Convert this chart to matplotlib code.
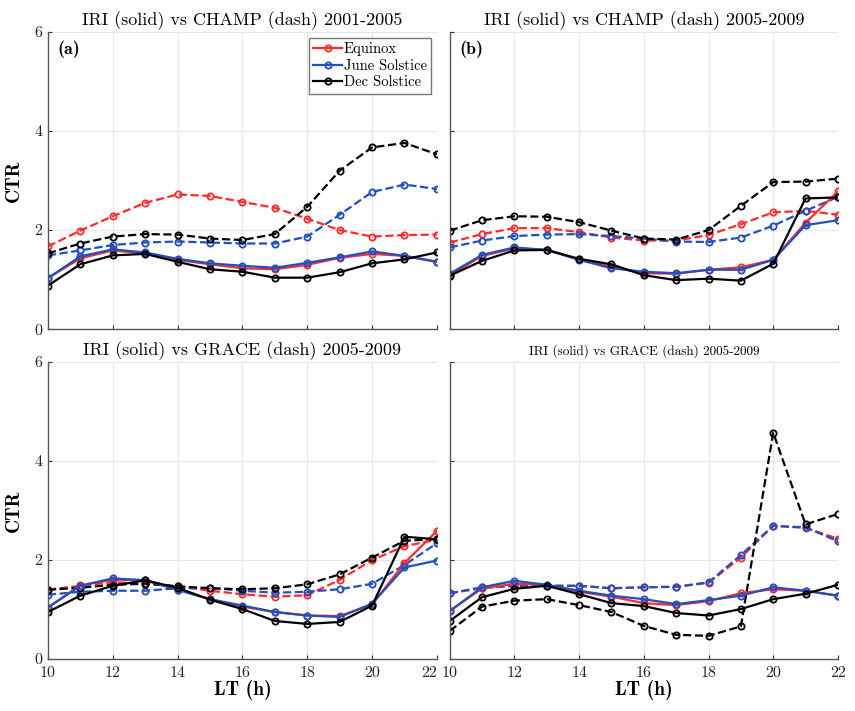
import matplotlib.pyplot as plt
import numpy as np

# 지방시 (LT)
lt = np.arange(10, 23)

# (a) IRI vs CHAMP 2001-2005
a_eq_iri = [1.03, 1.43, 1.59, 1.53, 1.40, 1.31, 1.23, 1.21, 1.30, 1.44, 1.52, 1.48, 1.36]
a_jun_iri = [1.03, 1.47, 1.61, 1.55, 1.42, 1.33, 1.28, 1.24, 1.34, 1.45, 1.57, 1.48, 1.36]
a_dec_iri = [0.88, 1.31, 1.49, 1.52, 1.36, 1.21, 1.16, 1.04, 1.04, 1.15, 1.33, 1.41, 1.55]
a_eq_sat = [1.67, 1.99, 2.28, 2.55, 2.72, 2.69, 2.57, 2.45, 2.23, 2.00, 1.87, 1.90, 1.91]
a_jun_sat = [1.49, 1.59, 1.70, 1.75, 1.77, 1.75, 1.73, 1.73, 1.87, 2.31, 2.77, 2.92, 2.83]
a_dec_sat = [1.53, 1.73, 1.87, 1.92, 1.91, 1.83, 1.80, 1.92, 2.47, 3.20, 3.67, 3.76, 3.53]

# (b) IRI vs CHAMP 2005-2009
b_eq_iri = [1.09, 1.48, 1.63, 1.60, 1.41, 1.26, 1.13, 1.12, 1.20, 1.25, 1.40, 2.15, 2.78]
b_jun_iri = [1.12, 1.50, 1.65, 1.60, 1.40, 1.23, 1.16, 1.13, 1.20, 1.20, 1.40, 2.10, 2.20]
b_dec_iri = [1.08, 1.38, 1.59, 1.60, 1.42, 1.31, 1.09, 0.99, 1.02, 0.98, 1.32, 2.64, 2.66]
b_eq_sat = [1.75, 1.92, 2.04, 2.04, 1.96, 1.85, 1.79, 1.79, 1.90, 2.12, 2.36, 2.39, 2.31]
b_jun_sat = [1.65, 1.79, 1.88, 1.91, 1.92, 1.88, 1.83, 1.77, 1.76, 1.85, 2.09, 2.39, 2.67]
b_dec_sat = [1.99, 2.20, 2.28, 2.27, 2.16, 1.99, 1.83, 1.81, 2.00, 2.49, 2.97, 2.98, 3.04]

# (c) IRI vs GRACE 2005-2009
c_eq_iri = [1.04, 1.49, 1.60, 1.60, 1.40, 1.21, 1.06, 0.95, 0.88, 0.87, 1.10, 1.94, 2.59]
c_jun_iri = [1.04, 1.48, 1.63, 1.59, 1.40, 1.21, 1.08, 0.95, 0.88, 0.85, 1.12, 1.85, 1.99]
c_dec_iri = [0.95, 1.28, 1.48, 1.59, 1.44, 1.20, 1.01, 0.77, 0.71, 0.75, 1.08, 2.47, 2.42]
c_eq_sat = [1.40, 1.48, 1.55, 1.53, 1.47, 1.38, 1.31, 1.26, 1.29, 1.60, 2.00, 2.28, 2.41]
c_jun_sat = [1.30, 1.36, 1.38, 1.38, 1.43, 1.44, 1.38, 1.34, 1.36, 1.41, 1.52, 1.90, 2.34]
c_dec_sat = [1.40, 1.44, 1.50, 1.52, 1.47, 1.43, 1.41, 1.43, 1.51, 1.71, 2.05, 2.39, 2.42]

# (d) IRI vs GRACE 2005-2009
d_eq_iri = [0.97, 1.43, 1.52, 1.50, 1.36, 1.26, 1.13, 1.09, 1.17, 1.33, 1.41, 1.38, 1.28]
d_jun_iri = [0.97, 1.45, 1.58, 1.50, 1.38, 1.28, 1.21, 1.11, 1.19, 1.28, 1.45, 1.38, 1.28]
d_dec_iri = [0.77, 1.25, 1.42, 1.48, 1.31, 1.13, 1.07, 0.93, 0.88, 1.01, 1.21, 1.32, 1.50]
d_eq_sat = [1.33, 1.43, 1.48, 1.48, 1.48, 1.43, 1.45, 1.46, 1.54, 2.05, 2.69, 2.65, 2.43]
d_jun_sat = [1.33, 1.45, 1.48, 1.48, 1.48, 1.43, 1.45, 1.46, 1.55, 2.10, 2.69, 2.66, 2.38]
d_dec_sat = [0.57, 1.06, 1.18, 1.21, 1.09, 0.95, 0.67, 0.49, 0.47, 0.66, 4.57, 2.72, 2.93]

titles = ['IRI (solid) vs CHAMP (dash) 2001-2005',
          'IRI (solid) vs CHAMP (dash) 2005-2009',
          'IRI (solid) vs GRACE (dash) 2005-2009',
          'IRI (solid) vs GRACE (dash) 2005-2009']
season_names = ['Equinox', 'June Solstice', 'Dec Solstice']
colors = ['#ff2b2b', '#1f4fc0', '#000000']

panels = [
    ([a_eq_iri, a_jun_iri, a_dec_iri], [a_eq_sat, a_jun_sat, a_dec_sat]),
    ([b_eq_iri, b_jun_iri, b_dec_iri], [b_eq_sat, b_jun_sat, b_dec_sat]),
    ([c_eq_iri, c_jun_iri, c_dec_iri], [c_eq_sat, c_jun_sat, c_dec_sat]),
    ([d_eq_iri, d_jun_iri, d_dec_iri], [d_eq_sat, d_jun_sat, d_dec_sat]),
]

plt.rcParams['font.family'] = ['cmr10', 'DejaVu Serif']
plt.rcParams['axes.unicode_minus'] = False

fig = plt.figure(figsize=(8.55, 7.11), dpi=100)
boxes = [
    [0.056, 0.537, 0.455, 0.418],
    [0.526, 0.537, 0.454, 0.418],
    [0.056, 0.073, 0.455, 0.418],
    [0.526, 0.073, 0.454, 0.418],
]

for i, (iri, sat) in enumerate(panels):
    ax = fig.add_axes(boxes[i])
    for k in range(3):
        ax.plot(lt, sat[k], '--o', color=colors[k], lw=1.6, ms=4.5,
                mfc='none', mew=1.3)
    for k in range(3):
        ax.plot(lt, iri[k], '-o', color=colors[k], lw=1.6, ms=4.5,
                mfc='none', mew=1.3, label=season_names[k])
    ax.set_xlim(10, 22)
    ax.set_ylim(0, 6)
    ax.set_xticks(range(10, 23, 2))
    ax.set_yticks([0, 2, 4, 6])
    ax.grid(True, color='#e6e6e6', lw=0.8)
    ax.set_axisbelow(True)
    ax.spines['top'].set_visible(False)
    ax.spines['right'].set_visible(False)
    for s in ['left', 'bottom']:
        ax.spines[s].set_color('#555555')
        ax.spines[s].set_linewidth(1.0)
    ax.tick_params(direction='in', length=3, labelsize=11.5, colors='#333333',
                   labelcolor='#222222')
    ax.tick_params(axis='x', pad=5)
    ax.tick_params(axis='y', pad=4)
    if i < 2:
        ax.tick_params(labelbottom=False)
    else:
        ax.set_xlabel('LT (h)', fontfamily='cmb10', fontsize=14, labelpad=0)
    if i % 2 == 1:
        ax.tick_params(labelleft=False)
    else:
        ax.set_ylabel('CTR', fontfamily='cmb10', fontsize=14, labelpad=8)
    tsize = 9.5 if i == 3 else 13
    ax.set_title(titles[i], fontsize=tsize, pad=5)
    if i == 0:
        ax.text(0.025, 0.97, '(a)', transform=ax.transAxes, fontfamily='cmb10',
                fontsize=13, va='top', ha='left')
        ax.legend(loc='upper right', fontsize=10.5, frameon=True, fancybox=False,
                  edgecolor='#555555', handlelength=2.0, handletextpad=0.1,
                  borderpad=0.3, labelspacing=0.2, borderaxespad=0.4)
    elif i == 1:
        ax.text(0.025, 0.97, '(b)', transform=ax.transAxes, fontfamily='cmb10',
                fontsize=13, va='top', ha='left')

# 아래 왼쪽 패널의 마지막 눈금 라벨이 오른쪽 패널과 겹치지 않게
fig.axes[2].get_xticklabels()[-1].set_horizontalalignment('right')

plt.savefig('out.png', dpi=100)
